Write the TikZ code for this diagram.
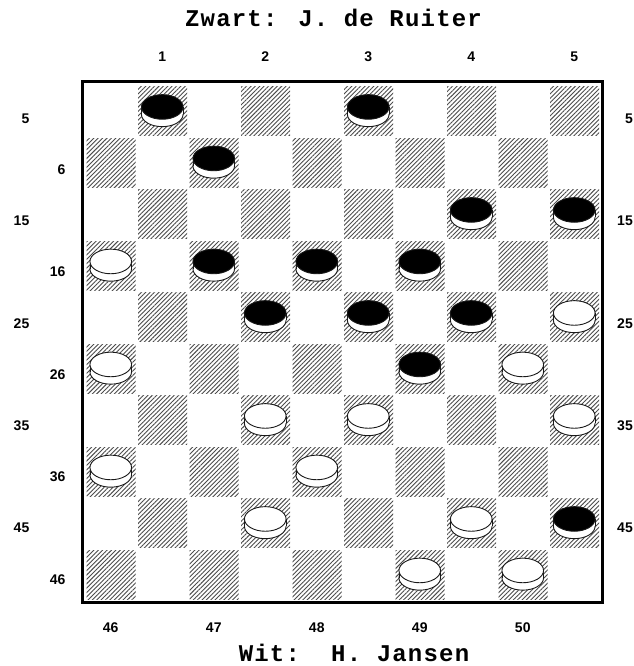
\documentclass[tikz,border=0pt]{standalone}
\usepackage{fontspec}
\usetikzlibrary{patterns.meta}
\newfontfamily\titlefont{Liberation Mono}[LetterSpace=5.0]
\newfontfamily\labfont{Liberation Sans}
\newcommand\drawpiece[3]{%
  \pgfmathsetmacro\px{110.75+51.5*#1}%
  \pgfmathsetmacro\py{110.75+51.5*#2}%
  \pgfmathsetmacro\yt{\py-3.8}%
  \pgfmathsetmacro\yb{\py+3.6}%
  \draw[pc, fill=white] (\px,\yb) ellipse [x radius=20.8, y radius=12.3];
  \fill[white] ({\px-20.8},\yt) rectangle ({\px+20.8},\yb);
  \draw[pc] ({\px-20.8},\yt) -- ({\px-20.8},\yb) ({\px+20.8},\yt) -- ({\px+20.8},\yb);
  \draw[pc, fill=#3] (\px,\yt) ellipse [x radius=20.8, y radius=12.3];
}
\begin{document}
\begin{tikzpicture}[x=1pt,y=-1pt,
  lab/.style={font=\labfont\bfseries\fontsize{14}{14}\selectfont, inner sep=0pt},
  titletext/.style={font=\titlefont\bfseries\fontsize{24}{24}\selectfont, inner sep=0pt, anchor=base},
  pc/.style={draw=black!90, line width=0.9pt},
  hatch/.style={pattern={Lines[angle=45,distance=3.1pt,line width=0.9pt]}, pattern color=black!70}]
\useasboundingbox (0,0) rectangle (633,666);
\fill[white] (0,0) rectangle (633,666);
% hatched dark squares
\foreach \r in {0,...,9}{
  \foreach \c in {0,...,9}{
    \pgfmathtruncatemacro\odd{mod(\r+\c,2)}
    \ifnum\odd=1
      \fill[hatch] ({85+51.5*\c+1.5},{85+51.5*\r+1.5}) rectangle ++(49,49);
    \fi
  }
}
% board border
\draw[line width=3pt] (82.5,82) rectangle (602.5,602);
% black pieces
\foreach \c/\r in {1/0,5/0,2/1,7/2,9/2,2/3,4/3,6/3,3/4,5/4,7/4,6/5,9/8}{
  \drawpiece{\c}{\r}{black}
}
% white pieces
\foreach \c/\r in {0/3,9/4,0/5,8/5,3/6,5/6,9/6,0/7,4/7,3/8,7/8,6/9,8/9}{
  \drawpiece{\c}{\r}{white}
}
% top labels
\foreach \i/\c in {1/1,2/3,3/5,4/7,5/9}{
  \node[lab, anchor=base] (top\i) at ({110.75+51.5*\c},61.7) {\i};
}
% bottom labels
\foreach \i/\c in {46/0,47/2,48/4,49/6,50/8}{
  \node[lab, anchor=base] (bot\i) at ({110.75+51.5*\c},632.3) {\i};
}
% left and right labels
\foreach \i/\r in {5/0,15/2,25/4,35/6,45/8}{
  \node[lab, anchor=base east] (lft\i) at (29.5,{123.3+51.2*\r}) {\i};
  \node[lab, anchor=base east] (rgt\i) at (633,{123.3+51.2*\r}) {\i};
}
\foreach \i/\r in {6/1,16/3,26/5,36/7,46/9}{
  \node[lab, anchor=base east] (lfe\i) at (65.7,{123.3+51.2*\r}) {\i};
}
% titles
\node[titletext] (zwart) at (333.5,26.5) {Zwart: J. de Ruiter};
\node[titletext] (wit) at (354,661) {Wit:\ \ H. Jansen};
\end{tikzpicture}
\end{document}
